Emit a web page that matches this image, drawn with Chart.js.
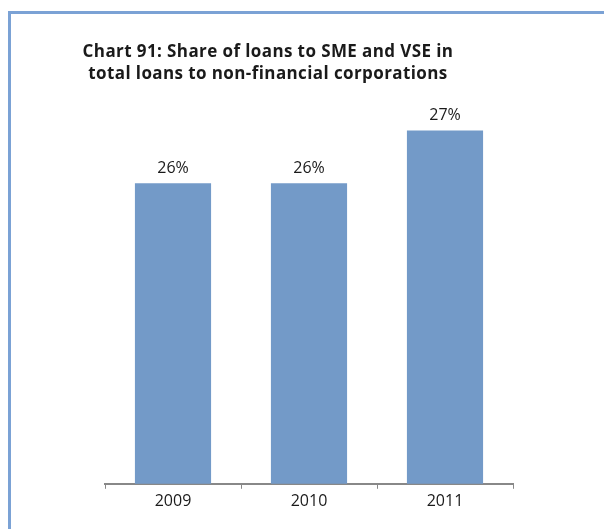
<!DOCTYPE html>
<html>
<head>
<meta charset="utf-8">
<script src="https://cdn.jsdelivr.net/npm/chart.js@4/dist/chart.umd.min.js"></script>
<style>
  html, body { margin: 0; padding: 0; background: #fff; overflow: hidden; }
  #wrap { position: relative; width: 604px; height: 529px; }
  #frame {
    position: absolute; left: 8px; top: 11px; width: 700px; height: 600px;
    border-left: 3px solid #7ba2d5; border-top: 3px solid #7ba2d5;
  }
  #chart { position: absolute; left: 0; top: 0; }
</style>
</head>
<body>
<div id="wrap">
  <div id="frame"></div>
  <canvas id="chart" width="604" height="529"></canvas>
</div>
<script>
// dati
const years = ['2009', '2010', '2011'];
const shares = [26.0, 26.0, 27.05];
const titleLines = ['Chart 91: Share of loans to SME and VSE in', 'total loans to non-financial corporations'];

const barColor = '#739ac8';
const textColor = '#1a1a1a';

// titolo disegnato a mano (centrato sul riquadro, non sull'asse)
const titlePlugin = {
  id: 'titleText',
  afterDraw(chart) {
    const ctx = chart.ctx;
    ctx.save();
    ctx.font = 'bold 17px "Open Sans", sans-serif';
    ctx.letterSpacing = '0.4px';
    ctx.fillStyle = textColor;
    ctx.textAlign = 'center';
    ctx.textBaseline = 'alphabetic';
    titleLines.forEach((line, i) => ctx.fillText(line, 268, 57 + i * 22));
    ctx.restore();
  }
};

// etichette dei valori sopra le barre
const valueLabels = {
  id: 'valueLabels',
  afterDatasetsDraw(chart) {
    const ctx = chart.ctx;
    const meta = chart.getDatasetMeta(0);
    ctx.save();
    ctx.font = '16px "Open Sans", sans-serif';
    ctx.fillStyle = textColor;
    ctx.textAlign = 'center';
    ctx.textBaseline = 'bottom';
    meta.data.forEach((bar, i) => {
      ctx.fillText(Math.round(shares[i]) + '%', bar.x, bar.y - 7);
    });
    ctx.restore();
  }
};

new Chart(document.getElementById('chart'), {
  type: 'bar',
  data: {
    labels: years,
    datasets: [{
      data: shares,
      backgroundColor: barColor,
      borderWidth: 0,
      categoryPercentage: 1,
      barPercentage: 0.56
    }]
  },
  options: {
    responsive: false,
    animation: false,
    layout: { padding: { left: 105, right: 91, top: 83, bottom: 15 } },
    plugins: {
      legend: { display: false },
      title: { display: false },
      tooltip: { enabled: false }
    },
    scales: {
      x: {
        grid: {
          display: true,
          drawOnChartArea: false,
          drawTicks: true,
          tickLength: 5,
          tickColor: '#888888',
          offset: true
        },
        border: { display: true, color: '#888888', width: 2 },
        ticks: {
          color: textColor,
          padding: 3,
          font: { family: '"Open Sans", sans-serif', size: 16 }
        }
      },
      y: {
        display: false,
        min: 20,
        max: 28
      }
    }
  },
  plugins: [titlePlugin, valueLabels]
});
</script>
</body>
</html>
